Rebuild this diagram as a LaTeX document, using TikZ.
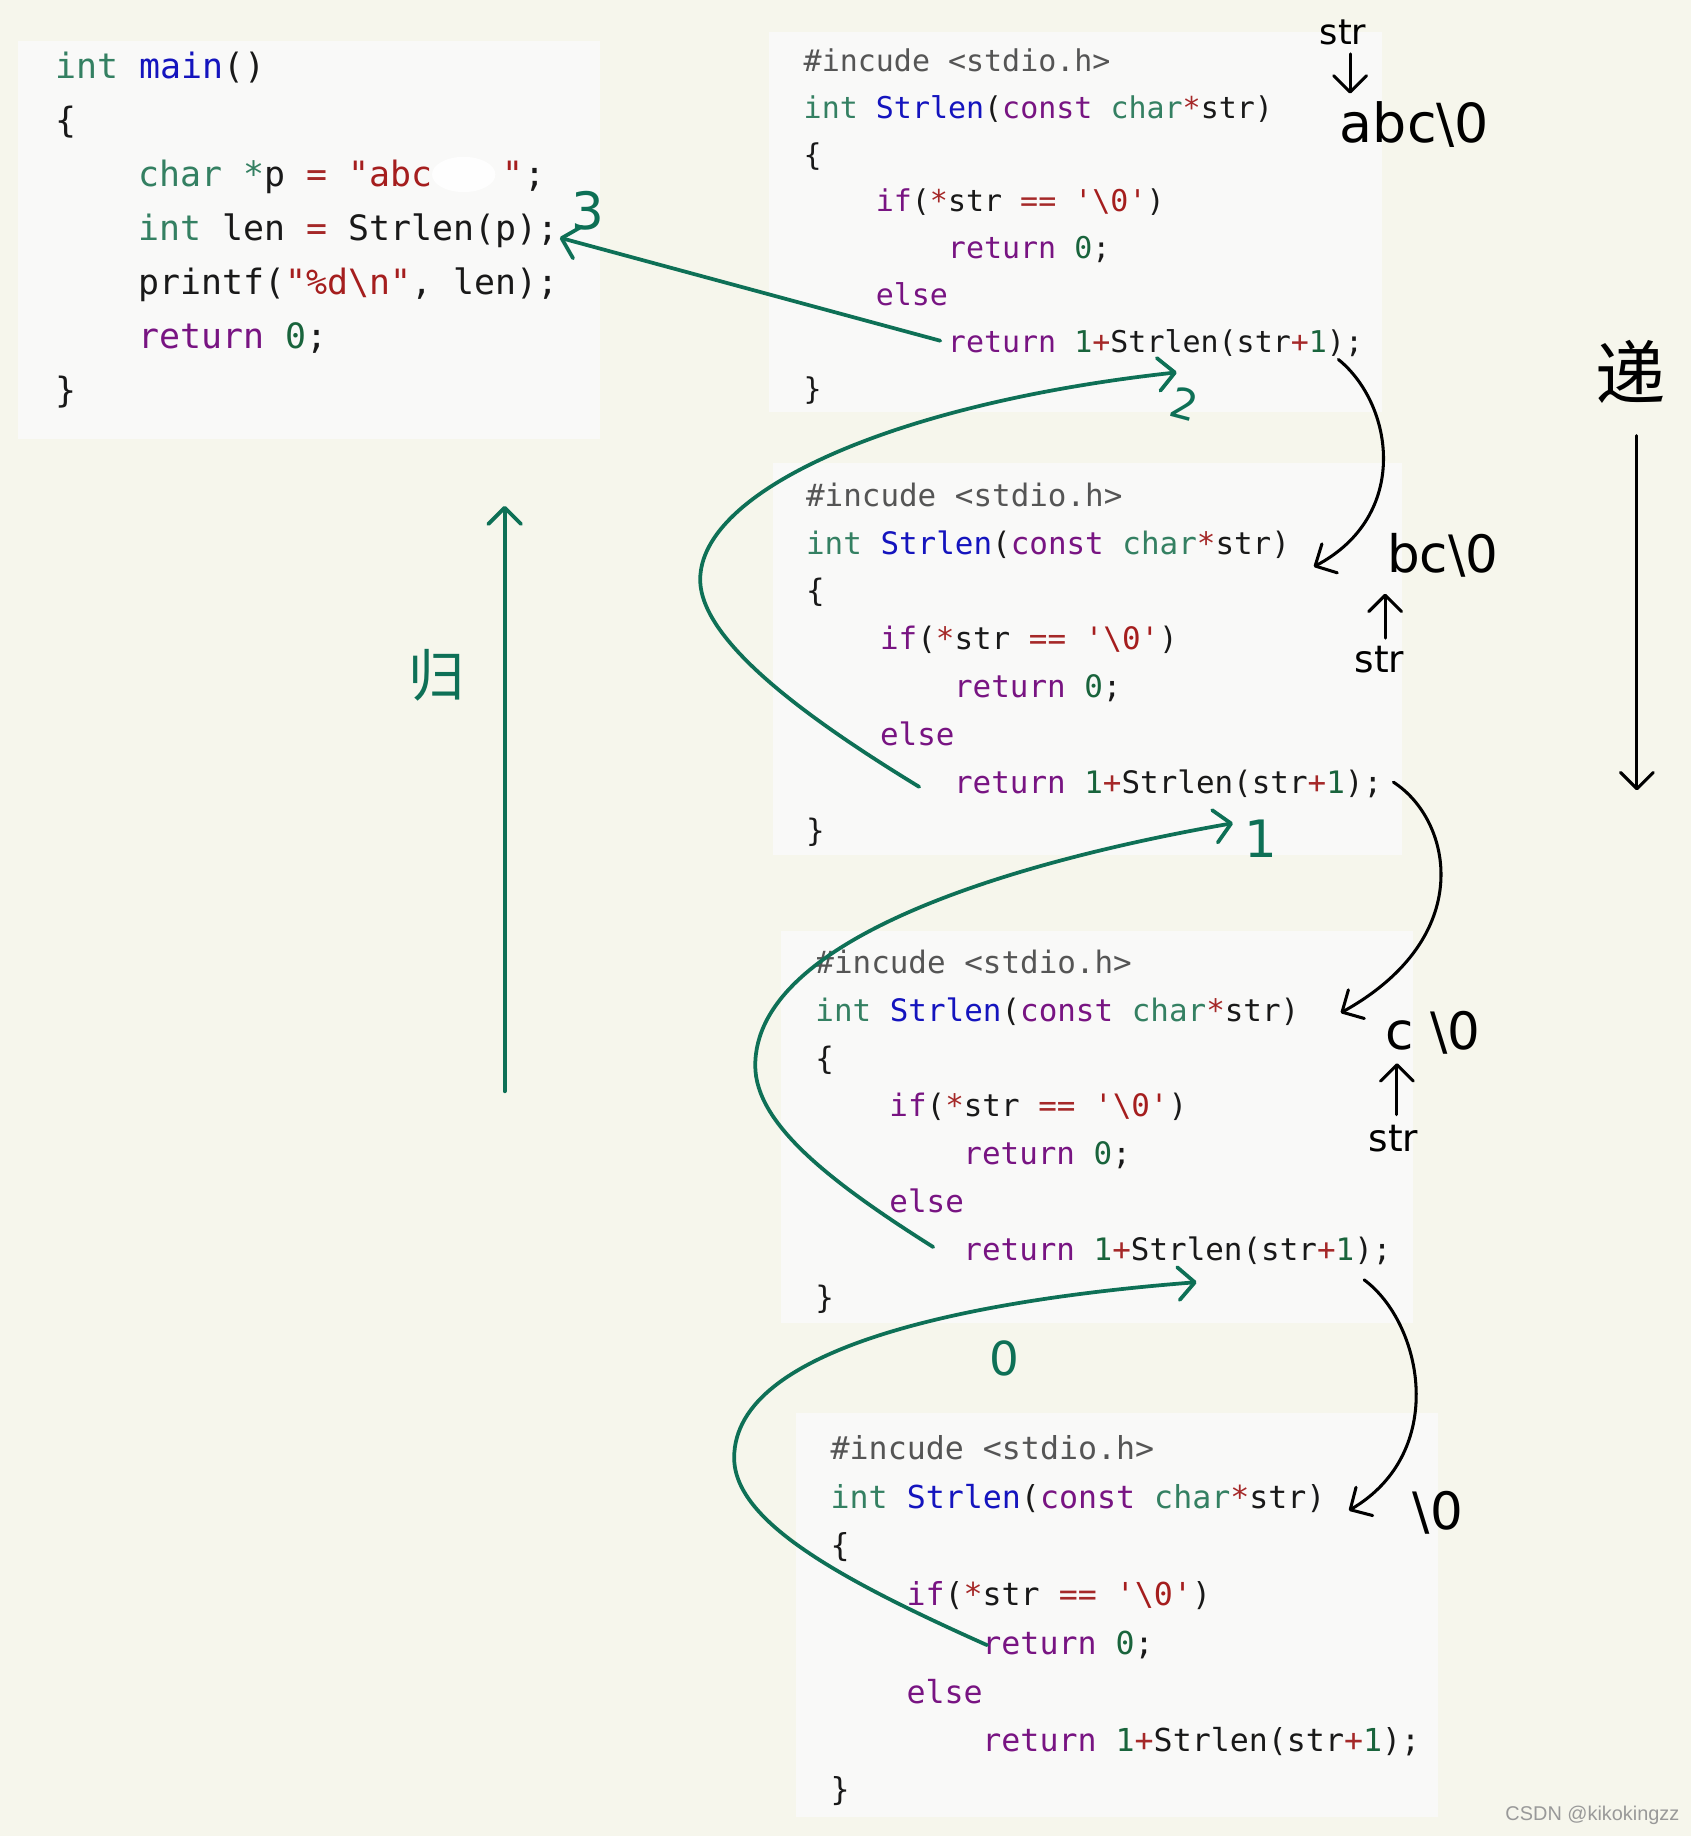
\documentclass[tikz,border=0pt]{standalone}
\usepackage{fontspec}
\setmonofont{DejaVu Sans Mono}
\newfontfamily\handfont{DejaVu Sans}
\newfontfamily\cjkfont{Noto Sans CJK SC}
\newfontfamily\wmfont{Liberation Sans}
\usetikzlibrary{arrows.meta}
\definecolor{bgc}{RGB}{246,246,236}
\definecolor{boxc}{RGB}{249,249,248}
\definecolor{cty}{RGB}{52,128,98}
\definecolor{cfn}{RGB}{20,20,190}
\definecolor{ckw}{RGB}{120,20,130}
\definecolor{cnum}{RGB}{25,100,60}
\definecolor{cstr}{RGB}{165,30,30}
\definecolor{cop}{RGB}{165,40,40}
\definecolor{cmeta}{RGB}{85,85,85}
\definecolor{plain}{RGB}{25,25,25}
\definecolor{gink}{RGB}{14,112,86}
\newcommand\cTy[1]{\textcolor{cty}{#1}}
\newcommand\cFn[1]{\textcolor{cfn}{#1}}
\newcommand\cKw[1]{\textcolor{ckw}{#1}}
\newcommand\cNum[1]{\textcolor{cnum}{#1}}
\newcommand\cStr[1]{\textcolor{cstr}{#1}}
\newcommand\cOp[1]{\textcolor{cop}{#1}}
\newcommand\cMeta[1]{\textcolor{cmeta}{#1}}
% #1 prefix, #2 x0, #3 first line centre y, #4 line step, #5 char width, #6 font size (pt)
\newcommand\strlenbox[6]{%
 \begin{scope}[every node/.append style={code,font=\fontsize{#6pt}{#6pt}\selectfont\ttfamily}]
 \node (#1a) at ({#2},{#3+0.7*#6}) {\cMeta{\#incude <stdio.h>}};
 \node (#1b) at ({#2},{#3+0.7*#6+#4}) {\cTy{int} \cFn{Strlen}(\cKw{const} \cTy{char}\cOp{*}str)};
 \node (#1c) at ({#2},{#3+0.7*#6+2*#4}) {\{};
 \node (#1d) at ({#2+4*#5},{#3+0.7*#6+3*#4}) {\cKw{if}(\cOp{*}str \cOp{==} \cStr{\textquotesingle\textbackslash 0\textquotesingle})};
 \node (#1e) at ({#2+8*#5},{#3+0.7*#6+4*#4}) {\cKw{return} \cNum{0};};
 \node (#1f) at ({#2+4*#5},{#3+0.7*#6+5*#4}) {\cKw{else}};
 \node (#1g) at ({#2+8*#5},{#3+0.7*#6+6*#4}) {\cKw{return} \cNum{1}\cOp{+}Strlen(str\cOp{+}\cNum{1});};
 \node (#1h) at ({#2},{#3+0.7*#6+7*#4}) {\}};
 \end{scope}}
\begin{document}
\begin{tikzpicture}[x=0.5pt,y=-0.5pt,
  code/.style={anchor=base west,inner sep=0pt,text=plain},
  hand/.style={inner sep=0pt,font=\handfont\fontsize{#1}{#1}\selectfont},
  hand/.default=16pt,
  ink/.style={draw=black,line width=1.3pt,line cap=round},
  gline/.style={draw=gink,line width=1.6pt,line cap=round},
  ah/.style={-{Straight Barb[length=7pt,width=14pt,round]}}]
\useasboundingbox (0,0) rectangle (1444,1568);
\fill[bgc] (0,0) rectangle (1444,1568);
% code panels
\fill[boxc] (15,35) rectangle (512,375);
\fill[boxc] (657,27) rectangle (1180,352);
\fill[boxc] (660,395) rectangle (1197,730);
\fill[boxc] (667,795) rectangle (1207,1130);
\fill[boxc] (680,1207) rectangle (1228,1552);
% main
\begin{scope}[every node/.append style={code,font=\fontsize{14.9pt}{14.9pt}\selectfont\ttfamily}]
\node (m1) at (47,67.4) {\cTy{int} \cFn{main}()};
\node (m2) at (47,113.4) {\{};
\node (m3) at (118,159.4) {\cTy{char} \cTy{*}p \cOp{=} \cStr{\textquotedbl abc\hspace{30pt}\textquotedbl};};
\node (m4) at (118,205.4) {\cTy{int} len \cOp{=} Strlen(p);};
\node (m5) at (118,251.4) {printf(\cStr{\textquotedbl\%d\textbackslash n\textquotedbl}, len);};
\node (m6) at (118,297.4) {\cKw{return} \cNum{0};};
\node (m7) at (47,343.4) {\}};
\end{scope}
\fill[white,opacity=0.95] (396,149) ellipse [x radius=27,y radius=15];
\strlenbox{p}{686}{52}{40}{15.4}{12.8}
\strlenbox{q}{688}{423}{40.9}{15.8}{13.2}
\strlenbox{r}{696}{822}{40.9}{15.8}{13.2}
\strlenbox{s}{709}{1237}{41.6}{16.2}{13.5}
% black annotations (recursion)
\node[hand=15pt] (t1) at (1147,28) {str};
\node[hand=23pt] (v1) at (1208,106) {abc\textbackslash 0};
\draw[ink,ah] (1153,46) -- (1153,80);
\node[hand=22pt] (v2) at (1232,474) {bc\textbackslash 0};
\node[hand=16pt] (t2) at (1178,563) {str};
\draw[ink,ah] (1183,545) -- (1183,507);
\node[hand=22pt] (v3) at (1224,882) {c \textbackslash 0};
\node[hand=16pt] (t3) at (1190,972) {str};
\draw[ink,ah] (1193,952) -- (1193,908);
\node[hand=22pt] (v4) at (1228,1292) {\textbackslash 0};
\node[inner sep=0pt,font=\cjkfont\fontsize{30pt}{30pt}\selectfont] (di) at (1393,318) {递};
\coordinate (d1) at (1398,372);
\coordinate (d2) at (1398,675);
\draw[ink,ah] (d1) -- (d2);
\coordinate (k1s) at (1143,307);
\coordinate (k1e) at (1122,484);
\draw[ink,ah] (k1s) .. controls (1190,345) and (1205,440) .. (k1e);
\coordinate (k2s) at (1190,668);
\coordinate (k2e) at (1145,865);
\draw[ink,ah] (k2s) .. controls (1240,700) and (1262,800) .. (k2e);
\coordinate (k3s) at (1165,1093);
\coordinate (k3e) at (1152,1290);
\draw[ink,ah] (k3s) .. controls (1215,1130) and (1237,1240) .. (k3e);
% green annotations (return)
\coordinate (g1s) at (803,291);
\coordinate (g1e) at (478,203);
\draw[gline,ah] (g1s) -- (g1e);
\node[hand=22pt,text=gink] (n3) at (502,180) {3};
\coordinate (g2s) at (785,672);
\coordinate (g2m) at (598,495);
\coordinate (g2e) at (1005,318);
\draw[gline,ah] (g2s) .. controls (700,620) and (598,550) .. (g2m) .. controls (598,420) and (760,345) .. (g2e);
\node[hand=18pt,text=gink,rotate=-15] (n2) at (1012,345) {2};
\coordinate (g3s) at (797,1065);
\coordinate (g3m) at (645,910);
\coordinate (g3e) at (1053,703);
\draw[gline,ah] (g3s) .. controls (710,1010) and (645,960) .. (g3m) .. controls (645,800) and (870,735) .. (g3e);
\node[hand=22pt,text=gink] (n1) at (1077,716) {1};
\coordinate (g4s) at (843,1405);
\coordinate (g4m) at (627,1245);
\coordinate (g4e) at (1022,1095);
\draw[gline,ah] (g4s) .. controls (720,1350) and (627,1300) .. (g4m) .. controls (627,1150) and (830,1110) .. (g4e);
\node[hand=20pt,text=gink] (n0) at (858,1160) {0};
\coordinate (u1) at (431,932);
\coordinate (u2) at (431,432);
\draw[gline,ah] (u1) -- (u2);
\node[inner sep=0pt,text=gink,font=\cjkfont\fontsize{24pt}{24pt}\selectfont] (gui) at (373,577) {归};
% watermark
\node[inner sep=0pt,text=black!40,font=\wmfont\fontsize{8.5pt}{8.5pt}\selectfont] (wm) at (1360,1550) {CSDN @kikokingzz};
\end{tikzpicture}
\end{document}
